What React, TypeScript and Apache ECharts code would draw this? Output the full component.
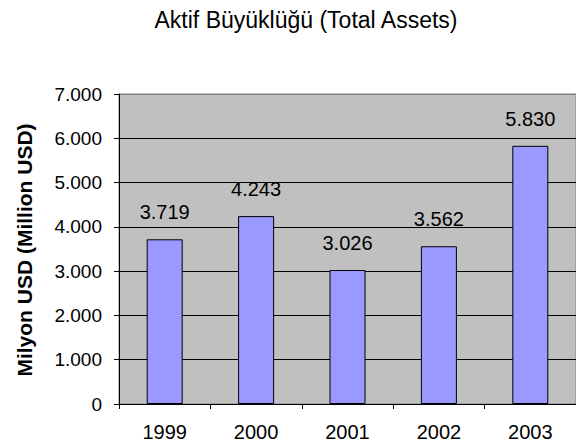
import React, { useEffect, useRef } from "react";
import * as echarts from "echarts";

const titleText = "Aktif Büyüklüğü (Total Assets)";
const yAxisTitle = "Milyon USD (Million USD)";
const years = ["1999", "2000", "2001", "2002", "2003"];
const totalAssets = [3719, 4243, 3026, 3562, 5830];
const yMin = 0;
const yMax = 7000;
const yStep = 1000;

const fmt = (v: number) => {
  const s = Math.round(v).toString();
  return s.replace(/\B(?=(\d{3})+(?!\d))/g, ".");
};

export default function App() {
  const ref = useRef<HTMLDivElement>(null);
  useEffect(() => {
    if (!ref.current) return;
    const chart = echarts.init(ref.current, null, { renderer: "svg" });
    const font = "'Liberation Sans', Arial, sans-serif";
    chart.setOption({
      animation: false,
      backgroundColor: "#ffffff",
      textStyle: { fontFamily: font },
      grid: {
        left: 119,
        top: 94,
        right: -9,
        bottom: 44,
        show: true,
        backgroundColor: "#C0C0C0",
        borderColor: "#808080",
        borderWidth: 1,
      },
      graphic: [
        {
          type: "text",
          x: 306,
          y: 20,
          style: {
            text: titleText,
            fontFamily: font,
            fontSize: 23,
            fill: "#000",
            textAlign: "center",
            textVerticalAlign: "middle",
          },
        },
        {
          type: "text",
          x: 24,
          y: 250,
          rotation: Math.PI / 2,
          style: {
            text: yAxisTitle,
            fontFamily: font,
            fontSize: 21,
            fontWeight: "bold",
            fill: "#000",
            textAlign: "center",
            textVerticalAlign: "middle",
          },
        },
      ],
      xAxis: {
        type: "category",
        data: years,
        boundaryGap: true,
        axisLine: { show: true, lineStyle: { color: "#000", width: 1 } },
        axisTick: { show: true, length: 5, inside: false, lineStyle: { color: "#000" } },
        axisLabel: { color: "#000", fontSize: 20, margin: 18, fontFamily: font },
        splitLine: { show: false },
      },
      yAxis: {
        type: "value",
        min: yMin,
        max: yMax,
        interval: yStep,
        axisLine: { show: true, lineStyle: { color: "#000", width: 1 } },
        axisTick: { show: true, length: 5, inside: false, lineStyle: { color: "#000" } },
        axisLabel: {
          color: "#000",
          fontSize: 19,
          margin: 17,
          fontFamily: font,
          formatter: (v: number) => fmt(v),
        },
        splitLine: {
          show: true,
          lineStyle: {
            color: ["#000", "#000", "#000", "#000", "#000", "#000", "#000", "#808080"],
            width: 1,
          },
        },
      },
      series: [
        {
          type: "bar",
          data: totalAssets,
          barWidth: 36,
          itemStyle: { color: "#9999FF", borderColor: "#000", borderWidth: 1 },
          label: {
            show: true,
            position: "top",
            distance: 17,
            color: "#000",
            fontSize: 20,
            fontFamily: font,
            formatter: (p: any) => fmt(p.value),
          },
        },
      ],
    });
    return () => chart.dispose();
  }, []);
  return <div ref={ref} style={{ width: 576, height: 448, position: "absolute", left: 0, top: 0 }} />;
}
